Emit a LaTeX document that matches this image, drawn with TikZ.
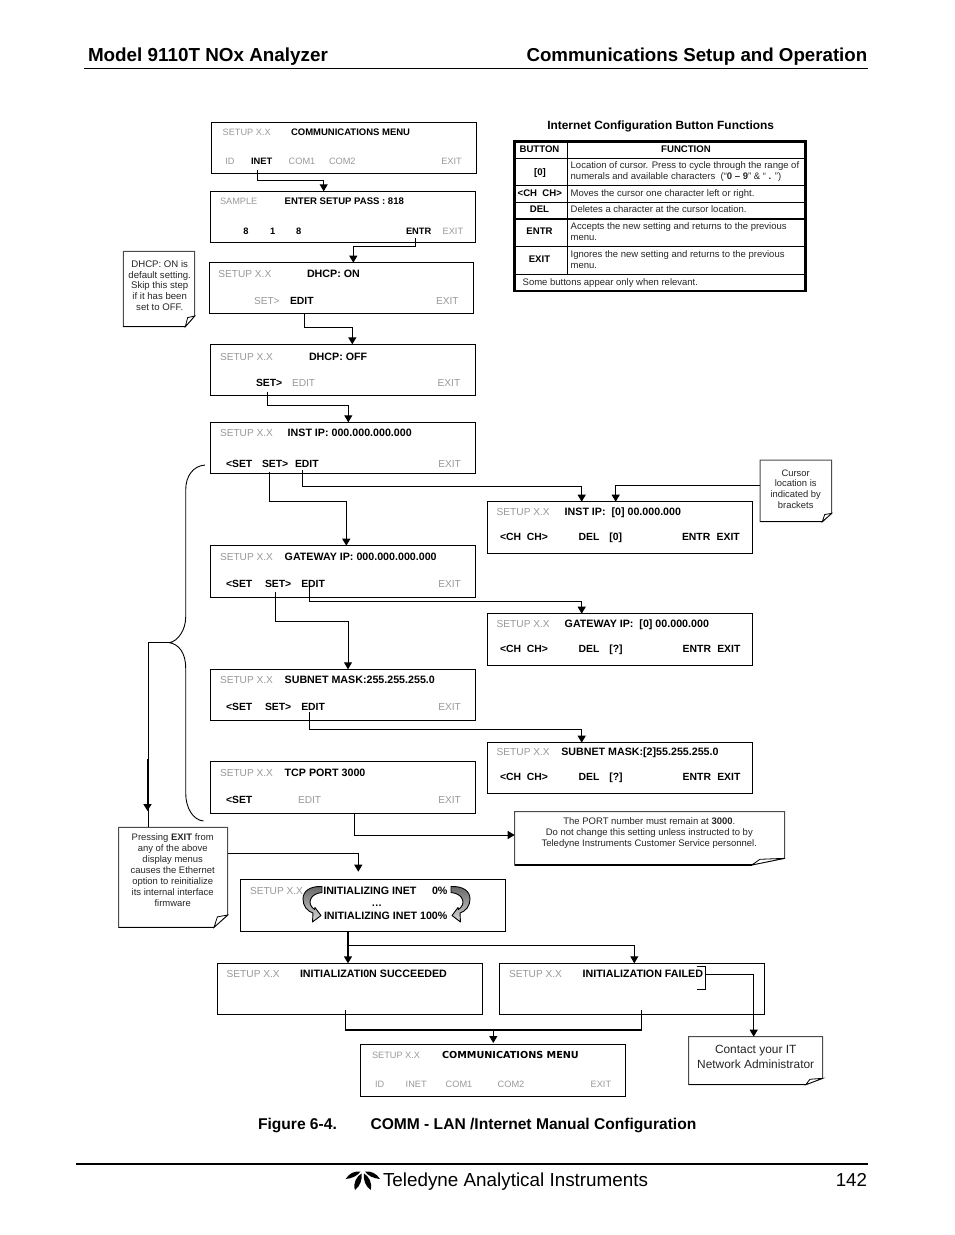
\documentclass[tikz,border=0pt]{standalone}
\usepackage{fontspec}
\setmainfont{Liberation Sans}
\newfontfamily\dejavu{DejaVu Sans}
\usetikzlibrary{arrows.meta}
\definecolor{dim}{gray}{0.6}
\definecolor{notec}{gray}{0.3}
\newcommand\fs[1]{\fontsize{#1}{#1}\selectfont}
\newcommand\fsl[2]{\fontsize{#1}{#2}\selectfont}
\tikzset{
  scrbox/.style={draw=black,line width=1pt,inner sep=0pt,outer sep=0pt,fill=white},
  noteframe/.style={draw=none,inner sep=0pt,outer sep=0pt},
  tb/.style={inner sep=0pt,outer sep=0pt,anchor=base west},
  on/.style={tb,font=\fs{10.4}\bfseries},
  ont/.style={tb,font=\fs{10.68}\bfseries},
  off/.style={tb,font=\fs{10.15},text=dim},
  ons/.style={tb,font=\fs{9.3}\bfseries},
  offs/.style={tb,font=\fs{9.2},text=dim},
  notetxt/.style={inner sep=0pt,outer sep=0pt,align=center,anchor=center,text=black!85},
  link/.style={draw=black,line width=1pt,-{Triangle[length=7pt,width=8pt]}},
  plainlink/.style={draw=black,line width=1pt},
  heavy/.style={line width=1.5pt},
  tcell/.style={inner sep=0pt,outer sep=0pt,anchor=base,font=\fs{9.6}\bfseries},
  tdesc/.style={inner sep=0pt,outer sep=0pt,anchor=base west,font=\fs{9.5},text=black!85},
  curl/.style={draw=black,line width=0.9pt,top color=black!60,bottom color=black!15},
}
\newcommand\scr[5]{%
  \pgfmathsetmacro\mycx{(#2+#4)/2}\pgfmathsetmacro\mycy{(#3+#5)/2}%
  \pgfmathsetmacro\myw{#4-#2}\pgfmathsetmacro\myh{#5-#3}%
  \node[scrbox,minimum width=\myw pt,minimum height=\myh pt] (#1) at (\mycx,\mycy) {};}
% name x1 y1 x2 y2 foldw foldh
\newcommand\notebx[7]{%
  \pgfmathsetmacro\mycx{(#2+#4)/2}\pgfmathsetmacro\mycy{(#3+#5)/2}%
  \pgfmathsetmacro\myw{#4-#2}\pgfmathsetmacro\myh{#5-#3}%
  \node[noteframe,minimum width=\myw pt,minimum height=\myh pt] (#1) at (\mycx,\mycy) {};
  \draw[draw=notec,line width=1pt,line join=miter,fill=white]
    (#1.south west) -- (#1.north west) -- (#1.north east) -- ([yshift=#7 pt]#1.south east)
    -- ([xshift=-#6 pt]#1.south east) -- cycle;
  \draw[draw=black,line width=1.2pt] (#1.south west) -- ([xshift=-#6 pt]#1.south east);
  \draw[draw=black,line width=0.8pt,fill=white] ([yshift=#7 pt]#1.south east)
    -- ([xshift=-#6 pt+0.25*#6 pt,yshift=0.85*#7 pt]#1.south east)
    -- ([xshift=-#6 pt]#1.south east) -- cycle;}
\begin{document}
\begin{tikzpicture}[x=1pt,y=-1pt]
\useasboundingbox (0,0) rectangle (954,1235);

% ---------- page head
\node[tb,font=\fs{18.85}\bfseries] (hl) at (88,61.5) {Model 9110T NOx Analyzer};
\node[tb,font=\fs{18.7}\bfseries] (hr) at (526.5,61.5) {Communications Setup and Operation};
\draw[line width=1pt] (84,68) -- (868,68);

% ---------- screens
\scr{b1}{211.3}{122.3}{476.7}{173.3}
\node[offs] (b1a) at (222.7,135) {SETUP X.X};
\node[ons,font=\fs{9.5}\bfseries] (b1b) at (291,135) {COMMUNICATIONS MENU};
\node[offs] (b1c) at (225.3,164) {ID};
\node[ons] (b1d) at (251,164) {INET};
\node[offs] (b1e) at (288.7,164) {COM1};
\node[offs] (b1f) at (329,164) {COM2};
\node[offs] (b1g) at (441.3,164) {EXIT};

\scr{b2}{210.3}{191.3}{475.3}{242.3}
\node[offs] (b2a) at (220,204.3) {SAMPLE};
\node[ons,font=\fs{9.55}\bfseries] (b2b) at (284.7,204.3) {ENTER SETUP PASS : 818};
\node[ons] (b2c) at (243.3,234.3) {8};
\node[ons] (b2d) at (270,234.3) {1};
\node[ons] (b2e) at (296,234.3) {8};
\node[ons] (b2f) at (406,234.3) {ENTR};
\node[offs] (b2g) at (442.7,234.3) {EXIT};

\scr{b3}{209.3}{262.7}{473.7}{313.7}
\node[off] (b3a) at (218.3,277) {SETUP X.X};
\node[ont] (b3b) at (307,277) {DHCP: ON};
\node[off] (b3c) at (254,304) {SET>};
\node[on] (b3d) at (290,304) {EDIT};
\node[off] (b3e) at (436,304) {EXIT};

\scr{b4}{210.3}{344.3}{475.3}{395.7}
\node[off] (b4a) at (220,360) {SETUP X.X};
\node[ont] (b4b) at (309,360) {DHCP: OFF};
\node[on] (b4c) at (256,386.7) {SET>};
\node[off] (b4d) at (292,386.7) {EDIT};
\node[off] (b4e) at (437.7,386.7) {EXIT};

\scr{b5}{210.3}{422.3}{475.7}{473.3}
\node[off] (b5a) at (220,436) {SETUP X.X};
\node[ont] (b5b) at (287.7,436) {INST IP: 000.000.000.000};
\node[on] (b5c) at (226,467) {<SET};
\node[on] (b5d) at (262,467) {SET>};
\node[on] (b5e) at (295,467) {EDIT};
\node[off] (b5f) at (438.3,467) {EXIT};

\scr{b6}{210.3}{545.7}{475.7}{597.3}
\node[off] (b6a) at (220,560) {SETUP X.X};
\node[ont] (b6b) at (284.7,560) {GATEWAY IP: 000.000.000.000};
\node[on] (b6c) at (226,587) {<SET};
\node[on] (b6d) at (265,587) {SET>};
\node[on] (b6e) at (301.3,587) {EDIT};
\node[off] (b6f) at (438.3,587) {EXIT};

\scr{b7}{210.3}{669.3}{475.7}{720.3}
\node[off] (b7a) at (220,683) {SETUP X.X};
\node[ont] (b7b) at (284.7,683) {SUBNET MASK:255.255.255.0};
\node[on] (b7c) at (226,710) {<SET};
\node[on] (b7d) at (265,710) {SET>};
\node[on] (b7e) at (301.3,710) {EDIT};
\node[off] (b7f) at (438.3,710) {EXIT};

\scr{b8}{210.3}{761.3}{475.7}{813.7}
\node[off] (b8a) at (220,776) {SETUP X.X};
\node[ont] (b8b) at (284.7,776) {TCP PORT 3000};
\node[on] (b8c) at (226,803) {<SET};
\node[off] (b8d) at (298,803) {EDIT};
\node[off] (b8e) at (438.3,803) {EXIT};

\scr{b9}{487.3}{501.7}{752.7}{553.3}
\node[off] (b9a) at (496.7,515.7) {SETUP X.X};
\node[ont] (b9b) at (564.7,515.7) {INST IP:\ \ [0] 00.000.000};
\node[on] (b9c) at (500,540.7) {<CH\ \ CH>};
\node[on] (b9d) at (578.7,540.7) {DEL};
\node[on] (b9e) at (609.3,540.7) {[0]};
\node[on] (b9f) at (682,540.7) {ENTR};
\node[on] (b9g) at (716.7,540.7) {EXIT};

\scr{b10}{487.3}{613.7}{752.7}{665.3}
\node[off] (b10a) at (496.7,627.7) {SETUP X.X};
\node[ont] (b10b) at (564.7,627.7) {GATEWAY IP:\ \ [0] 00.000.000};
\node[on] (b10c) at (500,652.3) {<CH\ \ CH>};
\node[on] (b10d) at (578.7,652.3) {DEL};
\node[on] (b10e) at (609.3,652.3) {[?]};
\node[on] (b10f) at (682.7,652.3) {ENTR};
\node[on] (b10g) at (717.3,652.3) {EXIT};

\scr{b11}{487.3}{742.7}{752.7}{793.3}
\node[off] (b11a) at (496.7,755.7) {SETUP X.X};
\node[ont] (b11b) at (561.3,755.7) {SUBNET MASK:[2]55.255.255.0};
\node[on] (b11c) at (500,780.7) {<CH\ \ CH>};
\node[on] (b11d) at (578.7,780.7) {DEL};
\node[on] (b11e) at (609.3,780.7) {[?]};
\node[on] (b11f) at (682.7,780.7) {ENTR};
\node[on] (b11g) at (717.3,780.7) {EXIT};

\scr{bi}{240.3}{879.3}{505.7}{931.3}
\node[off] (bia) at (250,894) {SETUP X.X};
\node[ont] (bib) at (323.3,894) {INITIALIZING INET};
\node[ont] (bic) at (432,894) {0\%};
\node[on,anchor=base] (bid) at (376.7,906) {\dots};
\node[ont] (bie) at (324,919) {INITIALIZING INET 100\%};

\scr{bs}{217.3}{963.3}{482.7}{1014.3}
\node[off] (bsa) at (226.7,977) {SETUP X.X};
\node[ont] (bsb) at (300,977) {INITIALIZATI0N SUCCEEDED};

\scr{bf}{499.3}{963.3}{764.7}{1014.3}
\node[off] (bfa) at (509,977.7) {SETUP X.X};
\node[ont] (bfb) at (582.7,977.7) {INITIALIZATION FAILED};

\scr{bc}{360.3}{1044.3}{625.7}{1096.3}
\node[offs] (bca) at (372,1058.3) {SETUP X.X};
\node[tb,font=\fs{9.66}\dejavu\bfseries] (bcb) at (442,1058.3) {COMMUNICATIONS MENU};
\node[offs] (bcc) at (375,1087) {ID};
\node[offs] (bcd) at (405.7,1087) {INET};
\node[offs] (bce) at (445.7,1087) {COM1};
\node[offs] (bcf) at (497.7,1087) {COM2};
\node[offs] (bcg) at (590.7,1087) {EXIT};

% ---------- notes
\notebx{nd}{123.3}{251.3}{194.7}{326.7}{9.4}{10.7}
\node[notetxt,font=\fsl{9.6}{10.8}] (ndt) at (159.7,285.5)
  {DHCP: ON is\\default setting.\\Skip this step\\if it has been\\set to OFF.};
\notebx{nc}{760}{460}{831.7}{521.7}{9.4}{8.4}
\node[notetxt,font=\fsl{9.4}{10.7}] (nct) at (795.7,489)
  {Cursor\\location is\\indicated by\\brackets};
\notebx{np}{118.7}{827.3}{227.7}{927.3}{13.7}{12.3}
\node[notetxt,font=\fsl{9.45}{10.95}] (npt) at (172.7,870)
  {Pressing \textbf{EXIT} from\\any of the above\\display menus\\causes the Ethernet\\option to reinitialize\\its internal interface\\firmware};
\notebx{nt}{514.7}{811.7}{784.7}{865}{33}{6.7}
\node[notetxt,font=\fsl{9.5}{11}] (ntt) at (649.3,833)
  {The PORT number must remain at \textbf{3000}.\\Do not change this setting unless instructed to by\\Teledyne Instruments Customer Service personnel.};
\notebx{nk}{688.7}{1036.7}{822.7}{1084.7}{17}{6.4}
\node[notetxt,font=\fsl{11.9}{14.3}] (nkt) at (755.7,1057)
  {Contact your IT\\Network Administrator};

% ---------- table
\node[tb,font=\fs{11.9}\bfseries,anchor=base] (tt) at (660.7,129.3) {Internet Configuration Button Functions};
\node[draw=black,line width=2.6pt,minimum width=291.2pt,minimum height=149.6pt,inner sep=0pt,outer sep=0pt] (tbl) at (659.9,216) {};
\draw[line width=0.9pt] (567.3,141) -- (567.3,274);
\draw[line width=1pt] (514,158.3) -- (805,158.3);
\draw[line width=1pt] (514,185.3) -- (805,185.3);
\draw[line width=1pt] (514,202.3) -- (805,202.3);
\draw[line width=1.6pt] (514,218.7) -- (805,218.7);
\draw[line width=1pt] (514,246) -- (805,246);
\draw[line width=1pt] (514,274) -- (805,274);
\node[tcell] (t1) at (539.5,152.7) {BUTTON};
\node[tcell] (t2) at (686,152.7) {FUNCTION};
\node[tcell] (t3) at (540,175) {[0]};
\node[tdesc] (t4) at (570.7,168.3) {Location of cursor. Press to cycle through the range of};
\node[tdesc] (t5) at (570.7,179.3) {numerals and available characters\ \ (“\textbf{0 – 9}” \& “ \textbf{.} ”)};
\node[tcell] (t6) at (539.8,196.3) {<CH\ \ CH>};
\node[tdesc] (t7) at (570.7,196.3) {Moves the cursor one character left or right.};
\node[tcell] (t8) at (539.5,212.7) {DEL};
\node[tdesc] (t9) at (570.7,212.7) {Deletes a character at the cursor location.};
\node[tcell] (t10) at (539.5,234.7) {ENTR};
\node[tdesc] (t11) at (570.7,229.7) {Accepts the new setting and returns to the previous};
\node[tdesc] (t12) at (570.7,240.3) {menu.};
\node[tcell] (t13) at (539.5,262.7) {EXIT};
\node[tdesc] (t14) at (570.7,257.7) {Ignores the new setting and returns to the previous};
\node[tdesc] (t15) at (570.7,268.3) {menu.};
\node[tdesc] (t16) at (522.7,285) {Some buttons appear only when relevant.};

% ---------- connector ends
\coordinate (o1) at (257.3,170);    \coordinate (i1) at (323.7,191.3);
\coordinate (o2) at (415,238);      \coordinate (i2) at (353.3,262.7);
\coordinate (o3) at (304.3,313.7);  \coordinate (i3) at (352.3,344.3);
\coordinate (o4) at (267.3,391.7);  \coordinate (i4) at (348.3,422.3);
\coordinate (o5) at (269.3,471.7);  \coordinate (i5) at (346.3,545.7);
\coordinate (o6) at (302.7,470);    \coordinate (i6) at (581.7,501.7);
\coordinate (i7) at (615.7,501.7);
\coordinate (o8) at (275,591.7);    \coordinate (i8) at (348,669.3);
\coordinate (o9) at (309.3,586.7);  \coordinate (i9) at (581.7,613.7);
\coordinate (o10) at (309.3,711.7); \coordinate (i10) at (581.7,742.7);
\coordinate (o11) at (354,813.7);
\coordinate (i12) at (358.3,871.7);
\coordinate (o13) at (348,931.3);   \coordinate (i13) at (348,963.3);
\coordinate (j14) at (348,945.7);   \coordinate (i14) at (634.3,963.3);
\coordinate (o15) at (345.7,1010);  \coordinate (o15b) at (641.7,1010);
\coordinate (j16) at (493.3,1030);  \coordinate (i16) at (493.3,1043);
\coordinate (o17) at (705.7,974.3); \coordinate (i17) at (753.7,1036.7);
\coordinate (bt) at (169.5,642.7);

% ---------- connectors
\draw[link] (o1) -- ++(0,10.3) -| (i1);
\draw[link] (o2) -- ++(0,8.7) -| (i2);
\draw[link,heavy] (o3) -- ++(0,13.6) -| (i3);
\draw[link] (o4) -- ++(0,13.3) -| (i4);
\draw[link] (o5) -- ++(0,29.3) -| (i5);
\draw[link] (o6) -- ++(0,16) -| (i6);
\draw[link] (nc.west |- 0,485.7) -| (i7);
\draw[link] (o8) -- ++(0,30) -| (i8);
\draw[link] (o9) -- ++(0,14.6) -| (i9);
\draw[link] (o10) -- ++(0,17.3) -| (i10);
\draw[link] (o11) |- (nt.west |- 0,835);
\draw[link] (np.east |- 0,853.3) -| (i12);
\draw[link,heavy] (o13) -- (i13);
\draw[link] (j14) -| (i14);
\draw[plainlink,heavy] (o15) |- (j16) -| (o15b);
\draw[link] (j16) -- (i16);
\draw[link] (o17) -| (i17);
\draw[plainlink] (696.7,966) -| (705.7,989.3) -- (696.7,989.3);

% ---------- brace and its return line
\draw[line width=0.9pt] (205,465) .. controls (193,466) and (185.7,476) .. (185.7,490)
  -- (185.7,617) .. controls (185.7,630) and (178,641) .. (bt)
  .. controls (178,644) and (185.7,652) .. (185.7,668)
  -- (185.7,793) .. controls (185.7,808) and (193,820) .. (203.5,821);
\draw[plainlink] (bt) -| (np.north -| 148.3,0);
\draw[link,line width=1.5pt] (147.5,759) -- (147.5,811);

% ---------- curled arrows of the initializing screen
\draw[curl,line join=round] (322,886.5) .. controls (310,886) and (303,891) .. (303,899)
  .. controls (303,906) and (307,911) .. (313,913) -- (312.5,922) -- (321,915.5)
  -- (315,907.5) -- (314.5,909.5) .. controls (311,907) and (309,903) .. (310.5,899.5)
  .. controls (312,895) and (317,893) .. (322,892.5) -- cycle;
\draw[curl,line join=round] (451,886.5) .. controls (463,886) and (470,891) .. (470,899)
  .. controls (470,906) and (466,911) .. (460,913) -- (460.5,922) -- (452,915.5)
  -- (458,907.5) -- (458.5,909.5) .. controls (462,907) and (464,903) .. (462.5,899.5)
  .. controls (461,895) and (456,893) .. (451,892.5) -- cycle;

% ---------- caption
\node[tb,font=\fs{15.6}\bfseries] (ca) at (258,1129.5) {Figure 6-4.};
\node[tb,font=\fs{15.6}\bfseries] (cb) at (370.5,1129.5) {COMM - LAN /Internet Manual Configuration};

% ---------- page foot
\draw[line width=2pt] (76,1163.5) -- (868,1163.5);
\fill[black] (345.7,1179) .. controls (349,1173.5) and (354,1171) .. (360.5,1171.5) .. controls (358,1175.5) and (352,1178.5) .. cycle;
\fill[black] (361.5,1173.5) .. controls (357,1176) and (352.5,1183) .. (355,1190) .. controls (360,1186) and (362.5,1180) .. cycle;
\fill[black] (380,1179) .. controls (376.5,1173.5) and (371.5,1171) .. (365,1171.5) .. controls (367.5,1175.5) and (373.5,1178.5) .. cycle;
\fill[black] (364,1173.5) .. controls (368.5,1176) and (373,1183) .. (370.5,1190) .. controls (365.5,1186) and (363,1180) .. cycle;
\node[tb,font=\fs{18.85}] (fl) at (383,1186) {Teledyne Analytical Instruments};
\node[tb,font=\fs{18.7},anchor=base east] (fr) at (867,1186) {142};
\end{tikzpicture}
\end{document}
